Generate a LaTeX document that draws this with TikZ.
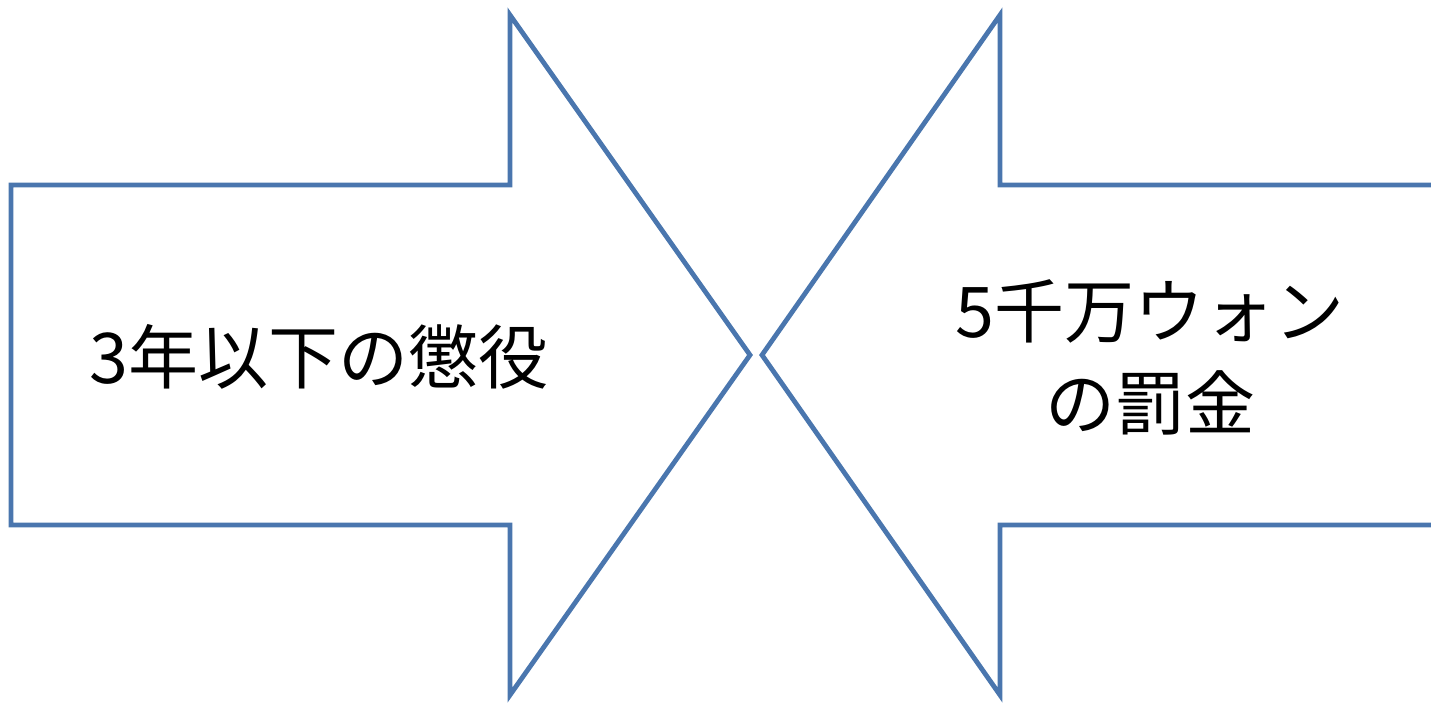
\documentclass[tikz,border=0pt]{standalone}
\usepackage{fontspec}
\newfontfamily\jpfont{Noto Sans CJK JP}
\usepackage{tikz}
\definecolor{arrowblue}{RGB}{74,118,174}

\begin{document}
\begin{tikzpicture}[x=0.5pt,y=-0.5pt]
			\useasboundingbox (0,0) rectangle (1431,703);
			\tikzset{shape line/.style={draw=arrowblue, line width=2.4pt, line join=miter},
				label text/.style={font=\jpfont\fontsize{35pt}{46pt}\selectfont, align=center, inner sep=0pt}}
			%%%%%%%%%%%%%%%%%%%%%%%%%%%%%%%%
			\draw[shape line] (11,185)--(510,185)--(510,15)--(750,355)--(510,695)--(510,525)--(11,525)--cycle;
			\node[label text] (prison) at (319,357){3年以下の懲役};
			%%%%%%%%%%%%%%%%%%%%%%%%%%%%%
			\begin{scope}
				\clip (0,0) rectangle (1431,703);
				\draw[shape line] (1440,185)--(1000,185)--(1000,15)--(762,355)--(1000,695)--(1000,525)--(1440,525);
			\end{scope}
			\node[label text] (fine) at (1150,357){5千万ウォン\\の罰金};
		\end{tikzpicture}
\end{document}
